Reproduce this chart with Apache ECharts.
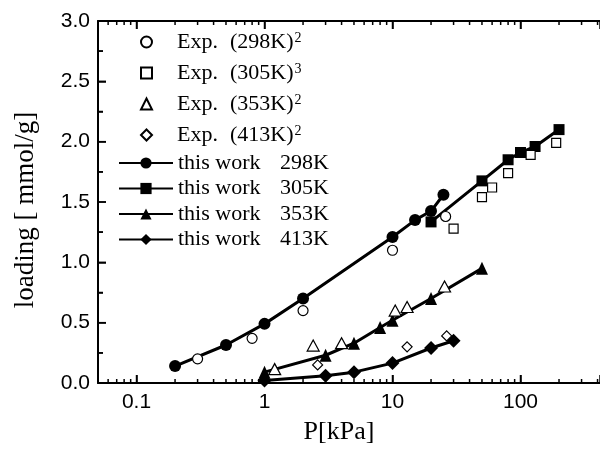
<!DOCTYPE html>
<html>
<head>
<meta charset="utf-8">
<script src="https://cdn.jsdelivr.net/npm/echarts@6/dist/echarts.min.js"></script>
<style>
  html, body { margin: 0; padding: 0; background: #fff; }
  #chart { width: 600px; height: 452px; background: #fff; }
</style>
</head>
<body>
<div id="chart"></div>
<script>
// Pressure P in kPa, loading in mmol/g

// Model results ("this work")
const simP298 = [0.2, 0.5, 1, 2, 10, 15, 20, 25];
const simL298 = [0.14, 0.315, 0.49, 0.70, 1.21, 1.35, 1.425, 1.56];
const simP305 = [20, 50, 80, 100, 130, 200];
const simL305 = [1.335, 1.675, 1.85, 1.91, 1.96, 2.10];
const simP353 = [1, 3, 5, 8, 10, 20, 50];
const simL353 = [0.09, 0.23, 0.33, 0.46, 0.52, 0.70, 0.95];
const simP413 = [1, 3, 5, 10, 20, 30];
const simL413 = [0.02, 0.06, 0.09, 0.165, 0.29, 0.35];

// Experimental points
const expP298 = [0.3, 0.8, 2, 10, 26];
const expL298 = [0.20, 0.37, 0.60, 1.10, 1.38];
const expP305 = [30, 50, 60, 80, 120, 190];
const expL305 = [1.28, 1.54, 1.62, 1.74, 1.89, 1.99];
const expP353 = [1.2, 2.4, 4, 10.5, 13, 25.5];
const expL353 = [0.115, 0.31, 0.33, 0.60, 0.63, 0.80];
const expP413 = [2.6, 13, 26.5];
const expL413 = [0.15, 0.30, 0.39];

const temps = ['298K', '305K', '353K', '413K'];
const expRefs = ['2', '3', '2', '2'];

// Axis range and ticks
const xMin = 0.05;
const xMax = 418;
const yMin = 0;
const yMax = 3;
const xMajorTicks = [0.1, 1, 10, 100];
const xTickLabels = ['0.1', '1', '10', '100'];
const xMinorTicks = [0.06, 0.07, 0.08, 0.09,
  0.2, 0.3, 0.4, 0.5, 0.6, 0.7, 0.8, 0.9,
  2, 3, 4, 5, 6, 7, 8, 9,
  20, 30, 40, 50, 60, 70, 80, 90,
  200, 300, 400];
const yMajorTicks = [0, 0.5, 1, 1.5, 2, 2.5, 3];
const yTickLabels = ['0.0', '0.5', '1.0', '1.5', '2.0', '2.5', '3.0'];
const yMinorTicks = [0.25, 0.75, 1.25, 1.75, 2.25, 2.75];

const zip = (xs, ys) => xs.map((x, i) => [x, ys[i]]);

const simSets = [[simP298, simL298], [simP305, simL305], [simP353, simL353], [simP413, simL413]];
const expSets = [[expP298, expL298], [expP305, expL305], [expP353, expL353], [expP413, expL413]];
const simSymbols = [['circle', 12], ['rect', 11], ['triangle', [12, 13]], ['diamond', 14]];
const expSymbols = [['circle', 10], ['rect', 9], ['triangle', [12, 11]], ['diamond', [10, 10]]];

const expNames = temps.map(t => 'Exp. (' + t + ')');
const simNames = temps.map(t => 'this work ' + t);

const AXIS_FONT = 'Liberation Sans';
const SERIF = 'Liberation Serif';

function lookupLabel(ticks, labels, v) {
  const i = ticks.findIndex(t => Math.abs(t - v) <= 1e-6 * Math.max(1, Math.abs(t)));
  return i >= 0 ? labels[i] : '';
}

const series = [];
simSets.forEach(([ps, ls], i) => {
  series.push({
    name: simNames[i],
    type: 'line',
    data: zip(ps, ls),
    symbol: simSymbols[i][0],
    symbolSize: simSymbols[i][1],
    showSymbol: true,
    color: '#000',
    lineStyle: { color: '#000', width: 3 },
    itemStyle: { color: '#000' },
    z: 2
  });
});
expSets.forEach(([ps, ls], i) => {
  series.push({
    name: expNames[i],
    type: 'scatter',
    data: zip(ps, ls),
    symbol: expSymbols[i][0],
    symbolSize: expSymbols[i][1],
    itemStyle: { color: '#fff', borderColor: '#000', borderWidth: 1.2, opacity: 1 },
    z: 3
  });
});

const legendRow = { fontFamily: SERIF, fontSize: 22, lineHeight: 22, color: '#000' };

const xAxisBase = {
  type: 'log', logBase: 10, min: xMin, max: xMax,
  splitLine: { show: false },
  axisLine: { show: true, onZero: false, lineStyle: { color: '#000', width: 2 } },
  axisTick: { show: true, inside: true, length: 8, lineStyle: { color: '#000', width: 1.5 } }
};

const titles = [
  {
    id: 'yTitle', type: 'text', x: 26, y: 210, rotation: Math.PI / 2, silent: true,
    style: { text: 'loading [ mmol/g]', fontFamily: SERIF, fontSize: 27, fill: '#000',
      align: 'center', verticalAlign: 'middle' }
  },
  {
    id: 'xTitle', type: 'text', x: 339, y: 432, silent: true,
    style: { text: 'P[kPa]', fontFamily: SERIF, fontSize: 26, fill: '#000',
      align: 'center', verticalAlign: 'middle' }
  }
];

const option = {
  animation: false,
  grid: { left: 98, top: 21, right: 0, bottom: 69 },
  xAxis: [
    Object.assign({}, xAxisBase, {
      position: 'bottom',
      axisLabel: { customValues: xMajorTicks, formatter: (v) => lookupLabel(xMajorTicks, xTickLabels, v),
        margin: 9, fontFamily: AXIS_FONT, fontSize: 21, color: '#000' }
    }),
    Object.assign({}, xAxisBase, {
      position: 'top',
      axisLabel: { show: false }
    })
  ],
  yAxis: {
    type: 'value', min: yMin, max: yMax, interval: 0.5,
    axisLine: { show: true, onZero: false, lineStyle: { color: '#000', width: 2 } },
    axisTick: { show: true, inside: true, length: 8, lineStyle: { color: '#000', width: 1.5 } },
    minorTick: { show: true, splitNumber: 2, length: 5, lineStyle: { color: '#000', width: 1.5 } },
    axisLabel: { formatter: (v) => lookupLabel(yMajorTicks, yTickLabels, v), margin: 8,
      fontFamily: AXIS_FONT, fontSize: 21, color: '#000' },
    splitLine: { show: false }
  },
  legend: [
    {
      data: expNames, orient: 'vertical', left: 140, top: 31, padding: 0,
      itemWidth: 11, itemHeight: 11, itemGap: 9,
      textStyle: Object.assign({}, legendRow, {
        rich: {
          p: { width: 20 },
          a: { width: 53, fontFamily: SERIF, fontSize: 22, lineHeight: 22 },
          b: { fontFamily: SERIF, fontSize: 22, lineHeight: 22 },
          s: { fontFamily: SERIF, fontSize: 14, lineHeight: 22, verticalAlign: 'top', padding: [0, 0, 8, 1] }
        }
      }),
      formatter: (name) => {
        const i = expNames.indexOf(name);
        return '{p| }{a|Exp.}{b|(' + temps[i] + ')}{s|' + expRefs[i] + '}';
      }
    },
    {
      data: simNames, orient: 'vertical', left: 118, top: 152, padding: 0,
      itemWidth: 54, itemHeight: 14, itemGap: 3.5,
      textStyle: Object.assign({}, legendRow, {
        rich: {
          a: { width: 102, fontFamily: SERIF, fontSize: 22, lineHeight: 22 },
          b: { fontFamily: SERIF, fontSize: 22, lineHeight: 22 }
        }
      }),
      formatter: (name) => {
        const i = simNames.indexOf(name);
        return '{a|this work}{b|' + temps[i] + '}';
      }
    }
  ],
  graphic: titles,
  series: series
};

const chart = echarts.init(document.getElementById('chart'));
chart.setOption(option);

// Frame: top edge plus inward major/minor ticks, placed through the axis scales
const px = (v) => chart.convertToPixel({ xAxisIndex: 0 }, v);
const py = (v) => chart.convertToPixel({ yAxisIndex: 0 }, v);
const xL = px(xMin), xR = px(xMax), yB = py(yMin), yT = py(yMax);
const frame = [];
const seg = (id, x1, y1, x2, y2, w) => frame.push({
  id: id, type: 'line', silent: true, z: 10,
  shape: { x1: x1, y1: y1, x2: x2, y2: y2 },
  style: { stroke: '#000', lineWidth: w }
});
seg('edgeTop', xL, yT, xR, yT, 2);
seg('edgeBottom', xL, yB, xR, yB, 2);
seg('edgeLeft', xL, yB, xL, yT, 2);
xMajorTicks.forEach((v, i) => {
  const x = px(v);
  seg('xMajB' + i, x, yB, x, yB - 8, 1.5);
  seg('xMajT' + i, x, yT, x, yT + 8, 1.5);
});
xMinorTicks.forEach((v, i) => {
  const x = px(v);
  seg('xMinB' + i, x, yB, x, yB - 4, 1.5);
  seg('xMinT' + i, x, yT, x, yT + 4, 1.5);
});
yMajorTicks.forEach((v, i) => {
  const y = py(v);
  seg('yMaj' + i, xL, y, xL + 8, y, 1.5);
});
yMinorTicks.forEach((v, i) => {
  const y = py(v);
  seg('yMin' + i, xL, y, xL + 5, y, 1.5);
});
chart.setOption({ graphic: titles.concat(frame) });
</script>
</body>
</html>
